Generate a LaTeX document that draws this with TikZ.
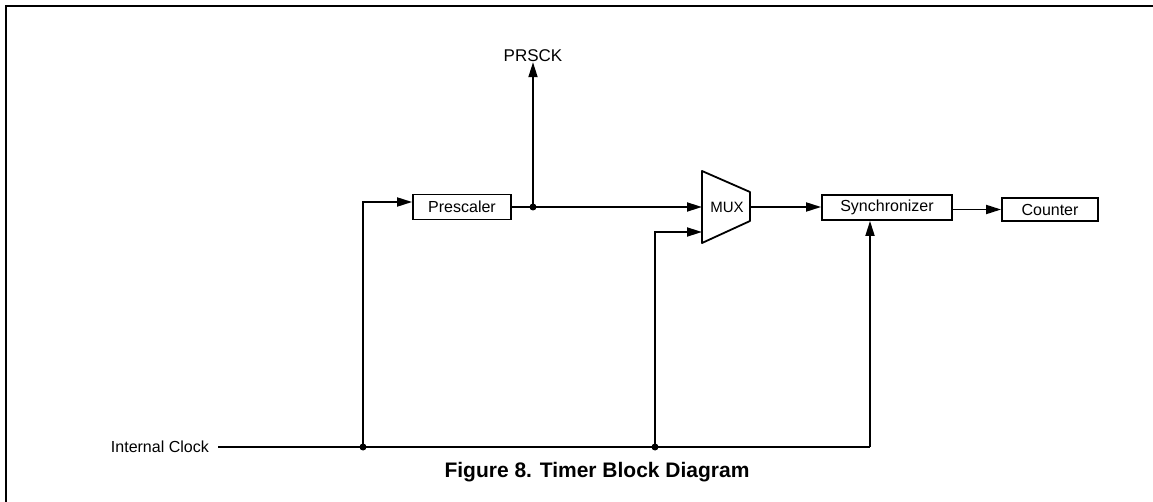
\documentclass[tikz,border=0pt]{standalone}
\usepackage{fontspec}
\setmainfont{Liberation Sans}
\usetikzlibrary{arrows.meta}
\begin{document}
\begin{tikzpicture}[x=1pt,y=1pt,
  wire/.style={line width=1.8pt},
  arr/.style={wire,-{Triangle[length=15pt,width=9pt]}},
  blk/.style={draw,line width=1.8pt,rectangle,inner sep=0pt,font=\fontsize{16}{19}\selectfont},
  lbl/.style={inner sep=0pt,font=\fontsize{16}{19}\selectfont},
  dot/.style={circle,fill=black,inner sep=0pt,minimum size=7pt}]
\useasboundingbox (0,0) rectangle (1153,-502);
% frame
\draw[line width=2pt] (6,-502) -- (6,-6) -- (1153,-6);
% blocks
\node[blk,minimum width=98pt,minimum height=25pt] (pre) at (462,-207) {Prescaler};
\draw[line width=1.8pt,line join=round] (702,-171) -- (750,-192) -- (750,-221) -- (702,-243) -- cycle;
\node[lbl,font=\fontsize{15}{18}\selectfont] (mux) at (727,-207) {MUX};
\coordinate (muxa) at (702,-207);
\coordinate (muxb) at (702,-232);
\coordinate (muxo) at (750,-207);
\node[blk,minimum width=130pt,minimum height=25pt] (sync) at (887,-207.5) {Synchronizer};
\node[blk,minimum width=96pt,minimum height=23pt] (cnt) at (1050,-209.5) {Counter};
% labels
\node[lbl,font=\fontsize{17}{20}\selectfont] (prsck) at (533,-56) {PRSCK};
\node[lbl,anchor=east] (clk) at (209,-447) {Internal Clock};
\node[inner sep=0pt,font=\bfseries\fontsize{21}{25}\selectfont] (cap) at (597,-472) {Figure 8. Timer Block Diagram};
% junctions
\node[dot] (j1) at (363,-447) {};
\node[dot] (j2) at (655,-447) {};
\node[dot] (j3) at (533,-207) {};
\coordinate (clkend) at (218,-447);
\coordinate (syin) at (870,-447);
% wires
\draw[wire] (clkend) -- (syin);
\draw[arr] (syin) -- (syin |- sync.south);
\draw[arr] (j1.center) |- (pre.west |- 0,-202);
\draw[wire] (pre.east) -- (j3.center);
\draw[arr] (j3.center) -- (muxa);
\draw[arr] (j3.center) -- (prsck.south);
\draw[arr] (j2.center) |- (muxb);
\draw[arr] (muxo) -- (sync.west |- muxo);
\draw[arr] (sync.east |- cnt.west) -- (cnt.west);
\end{tikzpicture}
\end{document}
